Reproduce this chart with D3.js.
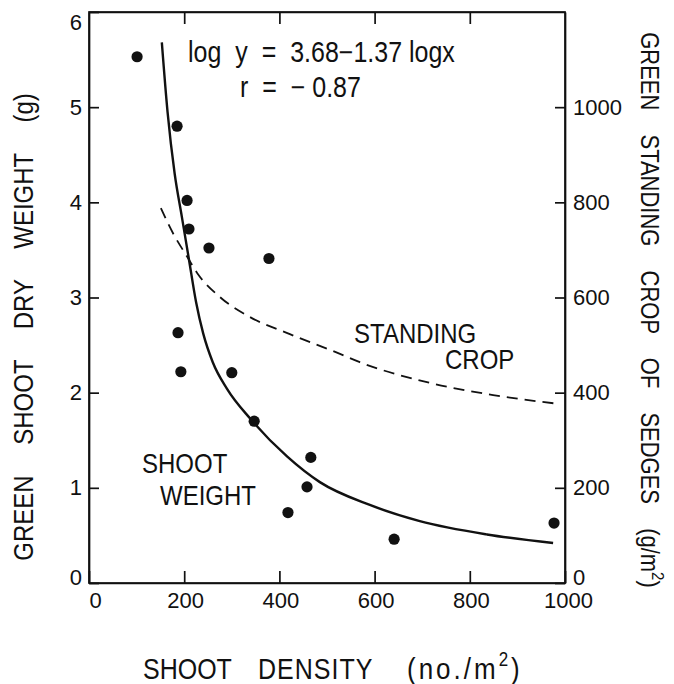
<!DOCTYPE html>
<html lang="en">
<head>
<meta charset="UTF-8">
<title>Shoot density vs shoot weight</title>
<style>
  body { margin: 0; background: #fff; }
  svg { display: block; }
  text { font-family: "Liberation Sans", Arial, sans-serif; fill: #111; white-space: pre; }
  .axis path, .axis line { stroke: #111; stroke-width: 1.7; }
  .axis text { font-size: 22px; fill: #111; }
</style>
</head>
<body>
<svg id="chart" width="674" height="684"></svg>
<script src="https://d3js.org/d3.v7.min.js"></script>
<script>
// data
const xTicks = [0, 200, 400, 600, 800, 1000];
const topTicks = [200, 400, 600, 800];
const weightTicks = [0, 1, 2, 3, 4, 5, 6];
const cropTicks = [0, 200, 400, 600, 800, 1000];

// observed shoots (no./m2, g)
const density = [101, 185, 206, 210, 252, 378, 187, 193, 300, 347, 466, 458, 418, 641, 977];
const weight  = [5.53, 4.80, 4.02, 3.72, 3.52, 3.41, 2.63, 2.22, 2.21, 1.70, 1.32, 1.01, 0.74, 0.46, 0.63];

// fitted shoot weight curve (solid)
const fitDensity = [153, 165, 180, 195, 210, 225, 240, 260, 290, 340, 416, 485, 590, 695, 836, 975];
const fitWeight  = [5.68, 4.95, 4.30, 3.85, 3.40, 2.95, 2.62, 2.32, 2.04, 1.72, 1.33, 1.06, 0.82, 0.65, 0.51, 0.42];

// standing crop curve (dashed, right axis g/m2)
const cropDensity = [151, 176, 206, 229, 275, 338, 422, 521, 569, 710, 849, 990];
const cropValue   = [788, 736, 686, 649, 601, 559, 523, 484, 464, 422, 395, 376];

const svg = d3.select('#chart');
const mLeft = 89, mRight = 565, mTop = 12, mBottom = 583;

const x = d3.scaleLinear().domain([0, 1000]).range([mLeft, mRight]);
const y = d3.scaleLinear().domain([0, 6]).range([mBottom, mTop]);
const y2 = d3.scaleLinear().domain([0, 1200]).range([mBottom, mTop]);
const fmt = d3.format('d');

// axes, ticks point inward
const gx = svg.append('g').attr('class', 'axis')
  .attr('transform', `translate(0,${mBottom})`)
  .call(d3.axisBottom(x).tickValues(xTicks).tickFormat(fmt).tickSize(-12).tickSizeOuter(0).tickPadding(9));
gx.selectAll('.tick text')
  .attr('dx', d => d === 0 ? 6 : d === 1000 ? 3 : 1);

svg.append('g').attr('class', 'axis')
  .attr('transform', `translate(0,${mTop})`)
  .call(d3.axisTop(x).tickValues(topTicks).tickSize(-12).tickSizeOuter(0).tickFormat(''));

const gy = svg.append('g').attr('class', 'axis')
  .attr('transform', `translate(${mLeft},0)`)
  .call(d3.axisLeft(y).tickValues(weightTicks).tickFormat(fmt).tickSize(-10).tickSizeOuter(0).tickPadding(7));
gy.selectAll('.tick text')
  .attr('dy', d => d === 6 ? '0.8em' : d === 0 ? '0.05em' : '0.32em');

const gy2 = svg.append('g').attr('class', 'axis')
  .attr('transform', `translate(${mRight},0)`)
  .call(d3.axisRight(y2).tickValues(cropTicks).tickFormat(fmt).tickSize(-10).tickSizeOuter(0).tickPadding(8));
gy2.selectAll('.tick text')
  .attr('dy', d => d === 0 ? '0.05em' : '0.32em');

// frame so the corners close
svg.append('rect')
  .attr('x', mLeft).attr('y', mTop)
  .attr('width', mRight - mLeft).attr('height', mBottom - mTop)
  .attr('fill', 'none').attr('stroke', '#111').attr('stroke-width', 1.7);

// standing crop (dashed)
const cropLine = d3.line()
  .x((d, i) => x(cropDensity[i]))
  .y(d => y2(d))
  .curve(d3.curveMonotoneX);
svg.append('path')
  .attr('d', cropLine(cropValue))
  .attr('fill', 'none')
  .attr('stroke', '#111')
  .attr('stroke-width', 1.8)
  .attr('stroke-dasharray', '11,7');

// shoot weight fit (solid)
const fitLine = d3.line()
  .x((d, i) => x(fitDensity[i]))
  .y(d => y(d))
  .curve(d3.curveMonotoneX);
svg.append('path')
  .attr('d', fitLine(fitWeight))
  .attr('fill', 'none')
  .attr('stroke', '#111')
  .attr('stroke-width', 2.4);

// points
svg.append('g').selectAll('circle')
  .data(weight)
  .join('circle')
  .attr('cx', (d, i) => x(density[i]))
  .attr('cy', d => y(d))
  .attr('r', 5.6)
  .attr('fill', '#111');

// text helper: slightly tall lettering like the original
function label(tx, ty, str, size, rot) {
  return svg.append('text')
    .attr('transform', `translate(${tx},${ty}) rotate(${rot || 0}) scale(1,1.15)`)
    .style('font-size', size + 'px')
    .text(str);
}

label(188, 62, 'log  y  =  3.68\u22121.37 logx', 25);
label(240, 97, 'r  =  \u2212 0.87', 25);

label(142, 473, 'SHOOT', 24);
label(160, 505, 'WEIGHT', 24);
label(354, 343, 'STANDING', 24);
label(445, 369, 'CROP', 24);

// x title
label(143, 679, 'SHOOT', 25);
label(258, 679, 'DENSITY', 25).attr('letter-spacing', 1);
const xt = label(407, 679, '(no./m', 26).attr('letter-spacing', 3);
xt.append('tspan').attr('dy', -11).style('font-size', '17px').text('2');
xt.append('tspan').attr('dy', 11).text(')');

// left title
label(33, 327, 'GREEN SHOOT DRY WEIGHT (g)', 24, -90)
  .attr('text-anchor', 'middle')
  .attr('word-spacing', 24);

// right title
const rt = label(641, 310, 'GREEN STANDING CROP OF SEDGES (g/m', 22, 90)
  .attr('text-anchor', 'middle')
  .attr('word-spacing', 18);
rt.append('tspan').attr('dy', -10).style('font-size', '15px').text('2');
rt.append('tspan').attr('dy', 10).text(')');
</script>
</body>
</html>
